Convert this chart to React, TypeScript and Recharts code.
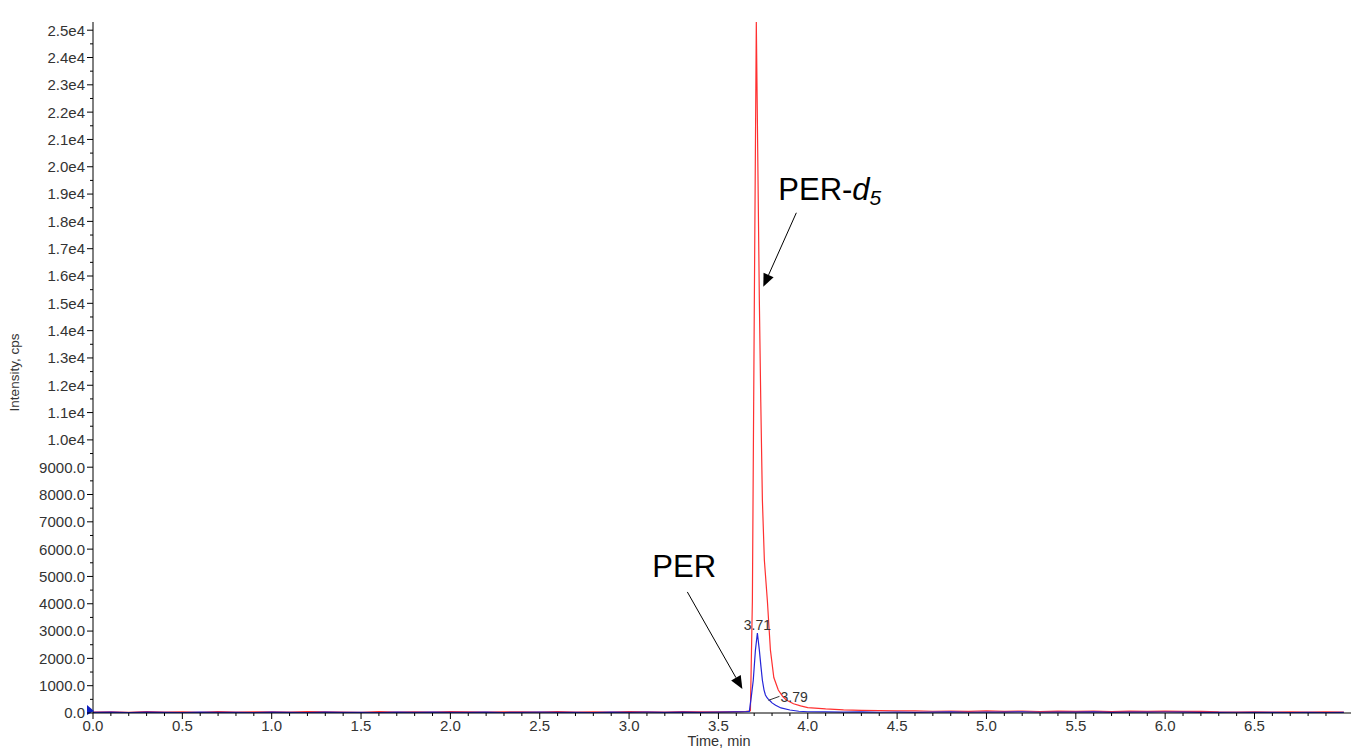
import React from 'react';
import { LineChart, Line, XAxis, YAxis, ReferenceLine, ReferenceDot } from 'recharts';

const FONT = '"Liberation Sans", Arial, Helvetica, sans-serif';

// PER-d5 (red trace): time (min) and intensity (cps)
const perD5Times = [
  0.0, 0.1, 0.2, 0.3, 0.4, 0.5, 0.6, 0.7, 0.8, 0.9,
  1.0, 1.1, 1.2, 1.3, 1.4, 1.5, 1.6, 1.7, 1.8, 1.9,
  2.0, 2.1, 2.2, 2.3, 2.4, 2.5, 2.6, 2.7, 2.8, 2.9,
  3.0, 3.1, 3.2, 3.3, 3.4, 3.5, 3.6,
  3.65, 3.679, 3.69, 3.701, 3.712, 3.729, 3.737, 3.746, 3.757, 3.774, 3.791, 3.81, 3.835, 3.86, 3.88, 3.92, 3.96,
  4.0, 4.1, 4.2, 4.3, 4.4, 4.5, 4.6, 4.7, 4.8, 4.9,
  5.0, 5.1, 5.2, 5.3, 5.4, 5.5, 5.6, 5.7, 5.8, 5.9,
  6.0, 6.1, 6.2, 6.3, 6.4, 6.5, 6.6, 6.7, 6.8, 6.9, 7.0,
];
const perD5Values = [
  30, 45, 25, 50, 35, 40, 28, 55, 32, 45,
  38, 30, 50, 42, 35, 27, 48, 36, 44, 30,
  52, 38, 29, 46, 41, 33, 50, 37, 44, 31,
  48, 40, 35, 52, 43, 38, 47,
  55, 80, 4100, 15100, 25300, 15100, 11400, 7800, 5600, 4100, 2300, 1300, 840, 600, 475, 340, 260,
  200, 150, 115, 95, 85, 75, 80, 65, 70, 60,
  75, 60, 70, 55, 68, 58, 72, 55, 65, 60,
  70, 58, 62, 40, 35, 42, 30, 38, 33, 40, 35,
];

// PER (blue trace)
const perTimes = [
  0.0, 0.1, 0.2, 0.3, 0.4, 0.5, 0.6, 0.7, 0.8, 0.9,
  1.0, 1.1, 1.2, 1.3, 1.4, 1.5, 1.6, 1.7, 1.8, 1.9,
  2.0, 2.1, 2.2, 2.3, 2.4, 2.5, 2.6, 2.7, 2.8, 2.9,
  3.0, 3.1, 3.2, 3.3, 3.4, 3.5, 3.6,
  3.65, 3.673, 3.684, 3.695, 3.707, 3.718, 3.729, 3.738, 3.746, 3.755, 3.763, 3.772, 3.78, 3.79, 3.8, 3.82, 3.85, 3.9, 3.95,
  4.0, 4.1, 4.2, 4.3, 4.4, 4.5, 4.6, 4.7, 4.8, 4.9,
  5.0, 5.1, 5.2, 5.3, 5.4, 5.5, 5.6, 5.7, 5.8, 5.9,
  6.0, 6.1, 6.2, 6.3, 6.4, 6.5, 6.6, 6.7, 6.8, 6.9, 7.0,
];
const perValues = [
  20, 35, 15, 30, 25, 18, 32, 22, 28, 16,
  30, 24, 19, 33, 21, 27, 17, 29, 23, 31,
  20, 26, 34, 18, 25, 30, 22, 28, 19, 33,
  24, 29, 21, 35, 26, 30, 38,
  45, 60, 600, 1200, 2300, 2930, 2300, 1700, 1200, 850, 660, 560, 500, 440, 370, 280, 185, 110, 65,
  45, 40, 30, 38, 28, 35, 25, 32, 40, 27,
  36, 30, 42, 28, 35, 30, 38, 26, 33, 29,
  37, 31, 25, 22, 28, 20, 24, 18, 22, 19, 21,
];

const xMajorTicks = [0, 0.5, 1.0, 1.5, 2.0, 2.5, 3.0, 3.5, 4.0, 4.5, 5.0, 5.5, 6.0, 6.5];
const xTickLabels = ['0.0', '0.5', '1.0', '1.5', '2.0', '2.5', '3.0', '3.5', '4.0', '4.5', '5.0', '5.5', '6.0', '6.5'];
const xMinorTicks = [
  0.1, 0.2, 0.3, 0.4, 0.6, 0.7, 0.8, 0.9, 1.1, 1.2, 1.3, 1.4, 1.6, 1.7, 1.8, 1.9,
  2.1, 2.2, 2.3, 2.4, 2.6, 2.7, 2.8, 2.9, 3.1, 3.2, 3.3, 3.4, 3.6, 3.7, 3.8, 3.9,
  4.1, 4.2, 4.3, 4.4, 4.6, 4.7, 4.8, 4.9, 5.1, 5.2, 5.3, 5.4, 5.6, 5.7, 5.8, 5.9,
  6.1, 6.2, 6.3, 6.4, 6.6, 6.7, 6.8, 6.9,
];

const yMajorTicks = [
  0, 1000, 2000, 3000, 4000, 5000, 6000, 7000, 8000, 9000, 10000, 11000, 12000,
  13000, 14000, 15000, 16000, 17000, 18000, 19000, 20000, 21000, 22000, 23000, 24000, 25000,
];
const yTickLabels = [
  '0.0', '1000.0', '2000.0', '3000.0', '4000.0', '5000.0', '6000.0', '7000.0', '8000.0', '9000.0',
  '1.0e4', '1.1e4', '1.2e4', '1.3e4', '1.4e4', '1.5e4', '1.6e4', '1.7e4', '1.8e4', '1.9e4',
  '2.0e4', '2.1e4', '2.2e4', '2.3e4', '2.4e4', '2.5e4',
];
const yMinorTicks = [
  500, 1500, 2500, 3500, 4500, 5500, 6500, 7500, 8500, 9500, 10500, 11500, 12500,
  13500, 14500, 15500, 16500, 17500, 18500, 19500, 20500, 21500, 22500, 23500, 24500,
];

// Annotations (data coordinates)
const arrowStarts = [
  { t: 3.326, v: 4432 },
  { t: 3.936, v: 18315 },
];
const arrowTips = [
  { t: 3.634, v: 879 },
  { t: 3.751, v: 15604 },
];
const peakLabels = [
  { t: 3.718, v: 2930, text: '3.71' },
  { t: 3.78, v: 500, text: '3.79' },
];

const perD5Data = perD5Times.map((t, i) => ({ t, v: perD5Values[i] }));
const perData = perTimes.map((t, i) => ({ t, v: perValues[i] }));

const XTick = (props: any) => {
  const { x, y, payload } = props;
  const i = xMajorTicks.indexOf(payload.value);
  if (i < 0) {
    return <line x1={x} y1={y} x2={x} y2={y + 3} stroke="#000" strokeWidth={1} />;
  }
  return (
    <g>
      <line x1={x} y1={y} x2={x} y2={y + 6} stroke="#000" strokeWidth={1} />
      <text x={x} y={y + 17.5} textAnchor="middle" fontSize={15} fill="#333" fontFamily={FONT}>
        {xTickLabels[i]}
      </text>
    </g>
  );
};

const YTick = (props: any) => {
  const { x, y, payload } = props;
  const i = yMajorTicks.indexOf(payload.value);
  if (i < 0) {
    return <line x1={x - 3} y1={y} x2={x} y2={y} stroke="#000" strokeWidth={1} />;
  }
  return (
    <g>
      <line x1={x - 6} y1={y} x2={x} y2={y} stroke="#000" strokeWidth={1} />
      <text x={x - 8} y={y} dy="0.36em" textAnchor="end" fontSize={15} fill="#333" fontFamily={FONT}>
        {yTickLabels[i]}
      </text>
    </g>
  );
};

const ArrowShape = (p: any) => {
  const { x1, y1, x2, y2 } = p;
  const dx = x2 - x1;
  const dy = y2 - y1;
  const len = Math.hypot(dx, dy) || 1;
  const ux = dx / len;
  const uy = dy / len;
  const hl = 13;
  const hw = 5.5;
  const bx = x2 - ux * hl;
  const by = y2 - uy * hl;
  const pts = `${x2},${y2} ${bx - uy * hw},${by + ux * hw} ${bx + uy * hw},${by - ux * hw}`;
  return (
    <g>
      <line x1={x1} y1={y1} x2={bx} y2={by} stroke="#000" strokeWidth={1} />
      <polygon points={pts} fill="#000" />
    </g>
  );
};

export default function App() {
  return (
    <div style={{ position: 'absolute', left: 0, top: 0, width: 1351, height: 751, background: '#fff' }}>
      <LineChart
        width={1351}
        height={751}
        margin={{ top: 22, right: 0, left: 33, bottom: 8 }}
      >
        <XAxis
          dataKey="t"
          type="number"
          domain={[0, 7.04]}
          ticks={[...xMajorTicks, ...xMinorTicks]}
          interval={0}
          tickSize={0}
          tickMargin={0}
          tickLine={false}
          tick={<XTick />}
          axisLine={{ stroke: '#000', strokeWidth: 1 }}
          height={30}
          allowDataOverflow
          label={{
            content: (lp: any) => {
              const vb = lp.viewBox || { x: 93, width: 1258, y: 713 };
              return (
                <text x={vb.x + vb.width / 2 - 3} y={746} textAnchor="middle" fontSize={14.5} fill="#333" fontFamily={FONT}>
                  Time, min
                </text>
              );
            },
          }}
        />
        <YAxis
          type="number"
          domain={[0, 25300]}
          ticks={[...yMajorTicks, ...yMinorTicks]}
          interval={0}
          width={60}
          tickSize={0}
          tickMargin={0}
          tickLine={false}
          tick={<YTick />}
          axisLine={{ stroke: '#000', strokeWidth: 1 }}
          allowDataOverflow
          label={{
            content: (lp: any) => {
              const vb = lp.viewBox || { x: 33, y: 22, height: 691 };
              const cx = vb.x - 19;
              const cy = vb.y + vb.height / 2 + 5;
              return (
                <text
                  x={cx}
                  y={cy}
                  transform={`rotate(-90, ${cx}, ${cy})`}
                  textAnchor="middle"
                  dominantBaseline="central"
                  fontSize={13.5}
                  fill="#333"
                  fontFamily={FONT}
                >
                  Intensity, cps
                </text>
              );
            },
          }}
        />
        <Line
          data={perD5Data}
          dataKey="v"
          type="linear"
          stroke="#ff3030"
          strokeWidth={1.2}
          dot={false}
          isAnimationActive={false}
        />
        <Line
          data={perData}
          dataKey="v"
          type="linear"
          stroke="#2525d8"
          strokeWidth={1.2}
          dot={false}
          isAnimationActive={false}
        />
        {arrowStarts.map((s, i) => (
          <ReferenceLine
            key={`arrow-${i}`}
            segment={[
              { x: s.t, y: s.v },
              { x: arrowTips[i].t, y: arrowTips[i].v },
            ]}
            shape={ArrowShape}
          />
        ))}
        <ReferenceDot
          x={3.13}
          y={4982}
          r={0}
          shape={(p: any) => (
            <text x={p.cx} y={p.cy} fontSize={31} fill="#000" fontFamily={FONT}>
              PER
            </text>
          )}
        />
        <ReferenceDot
          x={3.835}
          y={18791}
          r={0}
          shape={(p: any) => (
            <text x={p.cx} y={p.cy} fontSize={31} fill="#000" fontFamily={FONT}>
              PER-<tspan fontStyle="italic">d</tspan>
              <tspan fontStyle="italic" fontSize={21} dy={5}>5</tspan>
            </text>
          )}
        />
        <ReferenceDot
          x={peakLabels[0].t}
          y={peakLabels[0].v}
          r={0}
          shape={(p: any) => (
            <text x={p.cx} y={p.cy - 3} textAnchor="middle" fontSize={14} fill="#333" fontFamily={FONT}>
              {peakLabels[0].text}
            </text>
          )}
        />
        <ReferenceDot
          x={peakLabels[1].t}
          y={peakLabels[1].v}
          r={0}
          shape={(p: any) => (
            <g>
              <line x1={p.cx} y1={p.cy + 1} x2={p.cx + 11} y2={p.cy - 3} stroke="#333" strokeWidth={1} />
              <text x={p.cx + 12} y={p.cy + 3} fontSize={14} fill="#333" fontFamily={FONT}>
                {peakLabels[1].text}
              </text>
            </g>
          )}
        />
        <ReferenceDot
          x={0}
          y={0}
          r={0}
          shape={(p: any) => (
            <polygon
              points={`${p.cx - 6},${p.cy - 8} ${p.cx - 6},${p.cy + 2} ${p.cx + 1},${p.cy - 2}`}
              fill="#1020c0"
            />
          )}
        />
      </LineChart>
    </div>
  );
}
